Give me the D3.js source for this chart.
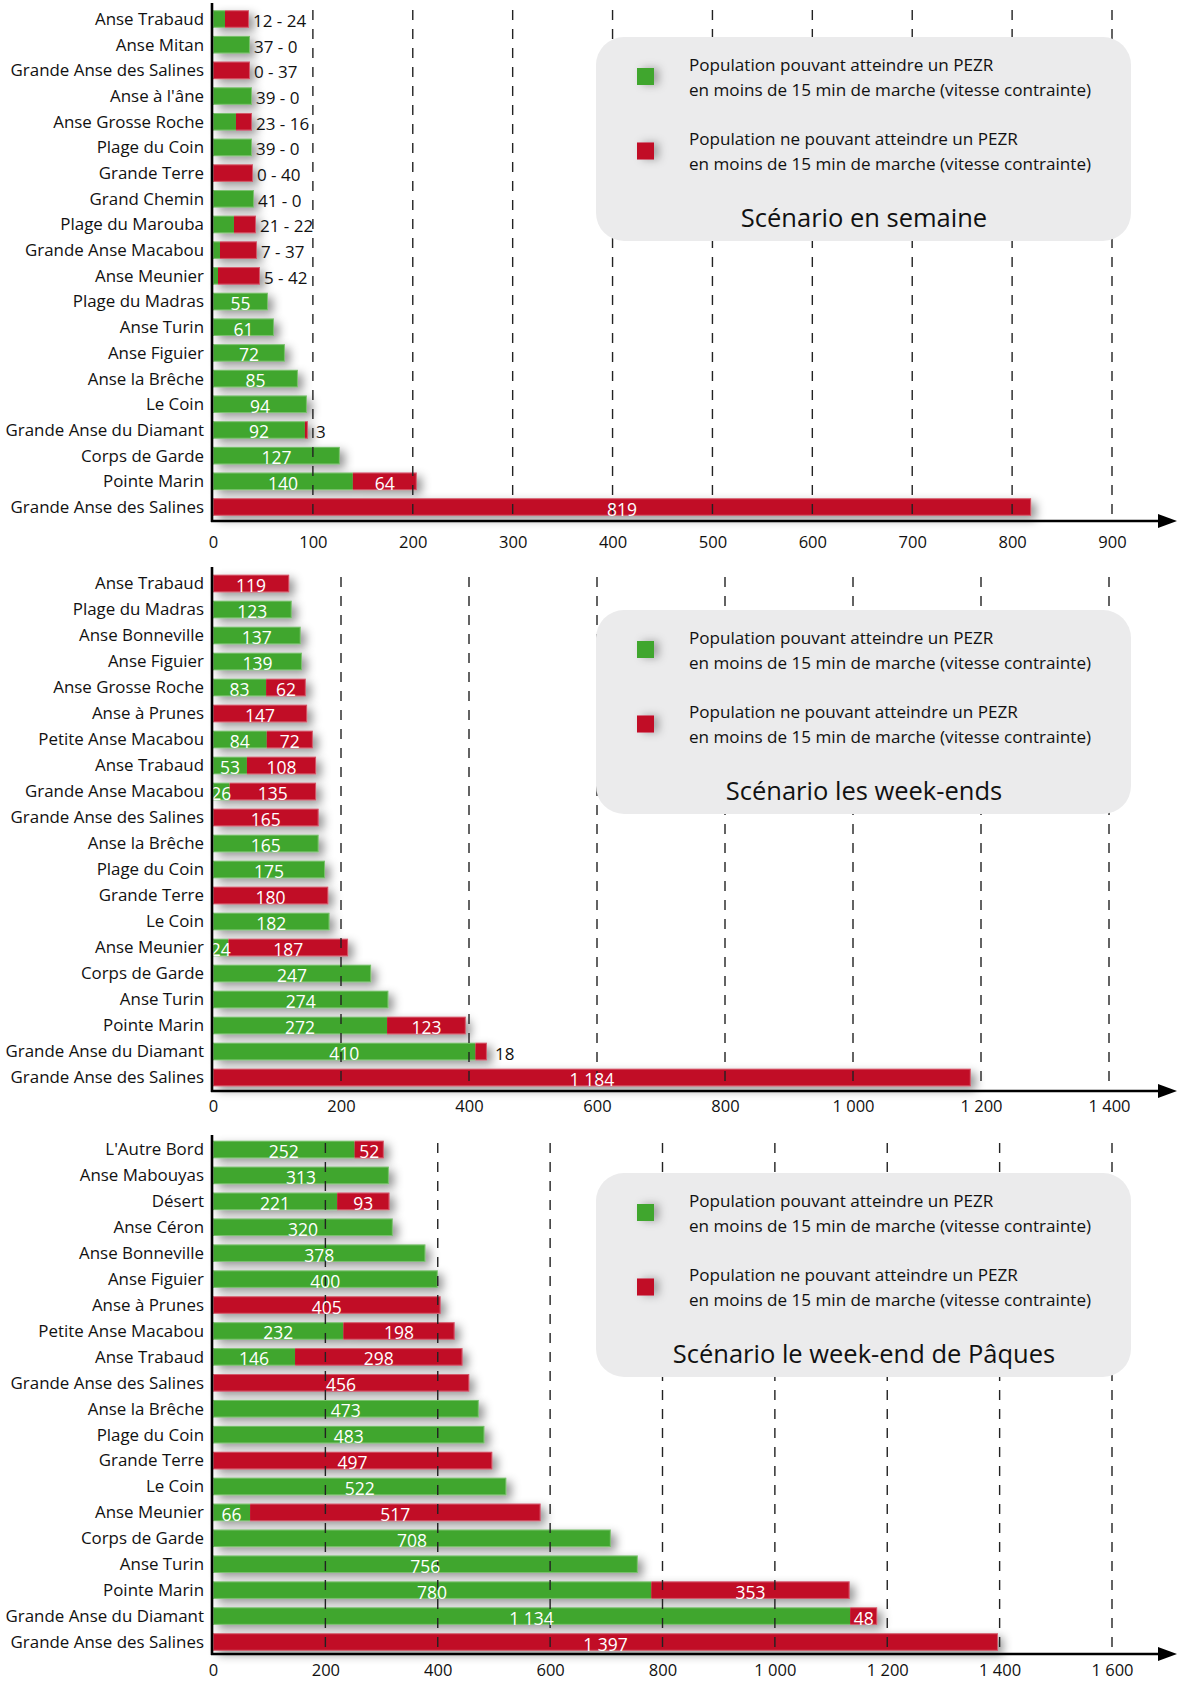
<!DOCTYPE html>
<html><head><meta charset="utf-8">
<script src="https://cdn.jsdelivr.net/npm/d3@7"></script>
<style>
body{margin:0;background:#fff;}
svg{display:block;font-family:"Open Sans",Lato,sans-serif;}
</style></head><body>
<svg id="c" width="1177" height="1681"></svg>
<script>
// ---------- DATA ----------
const categories1 = ["Anse Trabaud","Anse Mitan","Grande Anse des Salines","Anse à l'âne","Anse Grosse Roche","Plage du Coin","Grande Terre","Grand Chemin","Plage du Marouba","Grande Anse Macabou","Anse Meunier","Plage du Madras","Anse Turin","Anse Figuier","Anse la Brêche","Le Coin","Grande Anse du Diamant","Corps de Garde","Pointe Marin","Grande Anse des Salines"];
const green1 = [12,37,0,39,23,39,0,41,21,7,5,55,61,72,85,94,92,127,140,0];
const red1   = [24,0,37,0,16,0,40,0,22,37,42,0,0,0,0,0,3,0,64,819];
const ticks1 = [0,100,200,300,400,500,600,700,800,900];
const title1 = "Scénario en semaine";

const categories2 = ["Anse Trabaud","Plage du Madras","Anse Bonneville","Anse Figuier","Anse Grosse Roche","Anse à Prunes","Petite Anse Macabou","Anse Trabaud","Grande Anse Macabou","Grande Anse des Salines","Anse la Brêche","Plage du Coin","Grande Terre","Le Coin","Anse Meunier","Corps de Garde","Anse Turin","Pointe Marin","Grande Anse du Diamant","Grande Anse des Salines"];
const green2 = [0,123,137,139,83,0,84,53,26,0,165,175,0,182,24,247,274,272,410,0];
const red2   = [119,0,0,0,62,147,72,108,135,165,0,0,180,0,187,0,0,123,18,1184];
const ticks2 = [0,200,400,600,800,1000,1200,1400];
const title2 = "Scénario les week-ends";

const categories3 = ["L'Autre Bord","Anse Mabouyas","Désert","Anse Céron","Anse Bonneville","Anse Figuier","Anse à Prunes","Petite Anse Macabou","Anse Trabaud","Grande Anse des Salines","Anse la Brêche","Plage du Coin","Grande Terre","Le Coin","Anse Meunier","Corps de Garde","Anse Turin","Pointe Marin","Grande Anse du Diamant","Grande Anse des Salines"];
const green3 = [252,313,221,320,378,400,0,232,146,0,473,483,0,522,66,708,756,780,1134,0];
const red3   = [52,0,93,0,0,0,405,198,298,456,0,0,497,0,517,0,0,353,48,1397];
const ticks3 = [0,200,400,600,800,1000,1200,1400,1600];
const title3 = "Scénario le week-end de Pâques";

const legendGreen = ["Population pouvant atteindre un PEZR","en moins de 15 min de marche (vitesse contrainte)"];
const legendRed   = ["Population ne pouvant atteindre un PEZR","en moins de 15 min de marche (vitesse contrainte)"];

// ---------- STYLE ----------
const GREEN = "#41a62f", RED = "#c10b27";
const FONT = "'Open Sans',Lato,sans-serif";
const fmt = d3.formatLocale({decimal:",", thousands:" ", grouping:[3], currency:["","€"]}).format(",d");

const svg = d3.select("#c");
const defs = svg.append("defs");
defs.append("filter").attr("id","sh").attr("filterUnits","userSpaceOnUse")
  .attr("x",0).attr("y",0).attr("width",1177).attr("height",1681)
  .append("feDropShadow").attr("dx",5).attr("dy",4).attr("stdDeviation",5)
  .attr("flood-color","#000").attr("flood-opacity",0.42);
defs.append("filter").attr("id","shs").attr("filterUnits","userSpaceOnUse")
  .attr("x",0).attr("y",0).attr("width",1177).attr("height",1681)
  .append("feDropShadow").attr("dx",5).attr("dy",0).attr("stdDeviation",4)
  .attr("flood-color","#000").attr("flood-opacity",0.3);

function drawPanel(cfg){
  const {cats, green, red, ticks, title, axisTop, gridTop, c0, c1, axisY, xEnd, tickDy, boxTop} = cfg;
  const g = svg.append("g");
  const x = d3.scaleLinear().domain([0, ticks[ticks.length-1]]).range([213, xEnd]);
  const y = d3.scalePoint().domain(d3.range(cats.length)).range([c0, c1]);
  const bh = 17.5;

  // bars
  const rows = g.append("g").selectAll("g").data(d3.range(cats.length)).join("g")
    .attr("filter","url(#sh)");
  rows.each(function(i){
    const r = d3.select(this);
    if (green[i] > 0) r.append("rect").attr("x", x(0)).attr("y", y(i)-bh/2)
      .attr("width", x(green[i]) - x(0)).attr("height", bh).attr("fill", GREEN);
    if (red[i] > 0) r.append("rect").attr("x", x(green[i])).attr("y", y(i)-bh/2)
      .attr("width", x(green[i]+red[i]) - x(green[i])).attr("height", bh).attr("fill", RED);
  });
  g.append("g").selectAll("rect").data(d3.range(cats.length)).join("rect")
    .attr("x", x(0)+0.5).attr("y", i => y(i)-bh/2+0.5)
    .attr("width", i => x(green[i]+red[i]) - x(0) - 1).attr("height", bh-1)
    .attr("fill","none").attr("stroke","rgba(255,255,255,0.3)").attr("stroke-width",1);

  // gridlines (over bars)
  g.append("g").selectAll("line").data(ticks.slice(1)).join("line")
    .attr("x1", d => x(d)).attr("x2", d => x(d))
    .attr("y1", gridTop).attr("y2", axisY)
    .attr("stroke","#222").attr("stroke-width",1.4).attr("stroke-dasharray","10,9");

  // value labels
  const lab = g.append("g").attr("font-size",17.5).attr("font-family",FONT);
  d3.range(cats.length).forEach(i => {
    const tot = green[i] + red[i];
    const yc = y(i) + 1.5;
    if (x(tot) - x(0) < 50) {
      lab.append("text").attr("x", x(tot)+4).attr("y", yc).attr("dominant-baseline","central")
        .attr("font-size",17).attr("fill","#111").text(green[i] + " - " + red[i]);
      return;
    }
    const outside = [];
    [[0, green[i]], [green[i], red[i]]].forEach(([s, v]) => {
      if (v <= 0) return;
      const w = x(s+v) - x(s);
      if (w >= 13) {
        lab.append("text").attr("x", (x(s)+x(s+v))/2).attr("y", yc)
          .attr("text-anchor","middle").attr("dominant-baseline","central")
          .attr("fill","#fff").text(fmt(v));
      } else outside.push(v);
    });
    if (outside.length) lab.append("text").attr("x", x(tot)+8).attr("y", yc)
      .attr("dominant-baseline","central").attr("font-size",17).attr("fill","#111")
      .text(outside.map(fmt).join(" - "));
  });

  // y axis (category labels)
  const ya = g.append("g").attr("transform","translate(213,0)")
    .call(d3.axisLeft(y).tickSize(0).tickPadding(9).tickFormat(i => cats[i]));
  ya.select(".domain").remove();
  ya.selectAll("text").attr("font-size",16.9).attr("font-family",FONT)
    .attr("fill","#111").attr("dy","0.32em");
  g.append("line").attr("x1",212).attr("x2",212).attr("y1",axisTop).attr("y2",axisY+1)
    .attr("stroke","#000").attr("stroke-width",2.6);

  // x axis with arrow
  g.append("line").attr("x1",211).attr("x2",1160).attr("y1",axisY).attr("y2",axisY)
    .attr("stroke","#000").attr("stroke-width",2.6);
  g.append("path").attr("d", `M1158,${axisY-7}L1177,${axisY}L1158,${axisY+7}Z`).attr("fill","#000");
  const xa = g.append("g").attr("transform",`translate(0,${axisY})`)
    .call(d3.axisBottom(x).tickValues(ticks).tickSize(0).tickPadding(0).tickFormat(fmt));
  xa.select(".domain").remove();
  xa.selectAll("text").attr("font-size",16.5).attr("font-family",FONT)
    .attr("fill","#111").attr("y", tickDy).attr("dy","0.35em");

  // legend box
  const bx = 596, bw = 535, bhgt = 204;
  const lg = g.append("g");
  lg.append("rect").attr("x",bx).attr("y",boxTop).attr("width",bw).attr("height",bhgt)
    .attr("rx",28).attr("fill","#ebebec");
  [[GREEN, legendGreen, 39.5], [RED, legendRed, 114]].forEach(([col, lines, dy]) => {
    lg.append("rect").attr("x",637).attr("y",boxTop+dy-8.5).attr("width",17).attr("height",17)
      .attr("fill",col).attr("filter","url(#shs)");
    lines.forEach((t, k) => {
      lg.append("text").attr("x",689).attr("y",boxTop+dy-12.5+k*25).attr("dominant-baseline","central")
        .attr("font-size",17.1).attr("font-family",FONT).attr("fill","#111").text(t);
    });
  });
  lg.append("text").attr("x",864).attr("y",boxTop+180).attr("text-anchor","middle")
    .attr("dominant-baseline","central").attr("font-size",25.5).attr("font-family",FONT)
    .attr("fill","#111").text(title);
}

drawPanel({cats:categories1, green:green1, red:red1, ticks:ticks1, title:title1,
  axisTop:3, gridTop:10, c0:19, c1:507, axisY:521, xEnd:1112, tickDy:21, boxTop:37});
drawPanel({cats:categories2, green:green2, red:red2, ticks:ticks2, title:title2,
  axisTop:567, gridTop:577, c0:583.5, c1:1077.5, axisY:1091, xEnd:1109, tickDy:15, boxTop:610});
drawPanel({cats:categories3, green:green3, red:red3, ticks:ticks3, title:title3,
  axisTop:1135, gridTop:1143, c0:1149.5, c1:1642, axisY:1654, xEnd:1112, tickDy:16, boxTop:1173});
</script>
</body></html>
